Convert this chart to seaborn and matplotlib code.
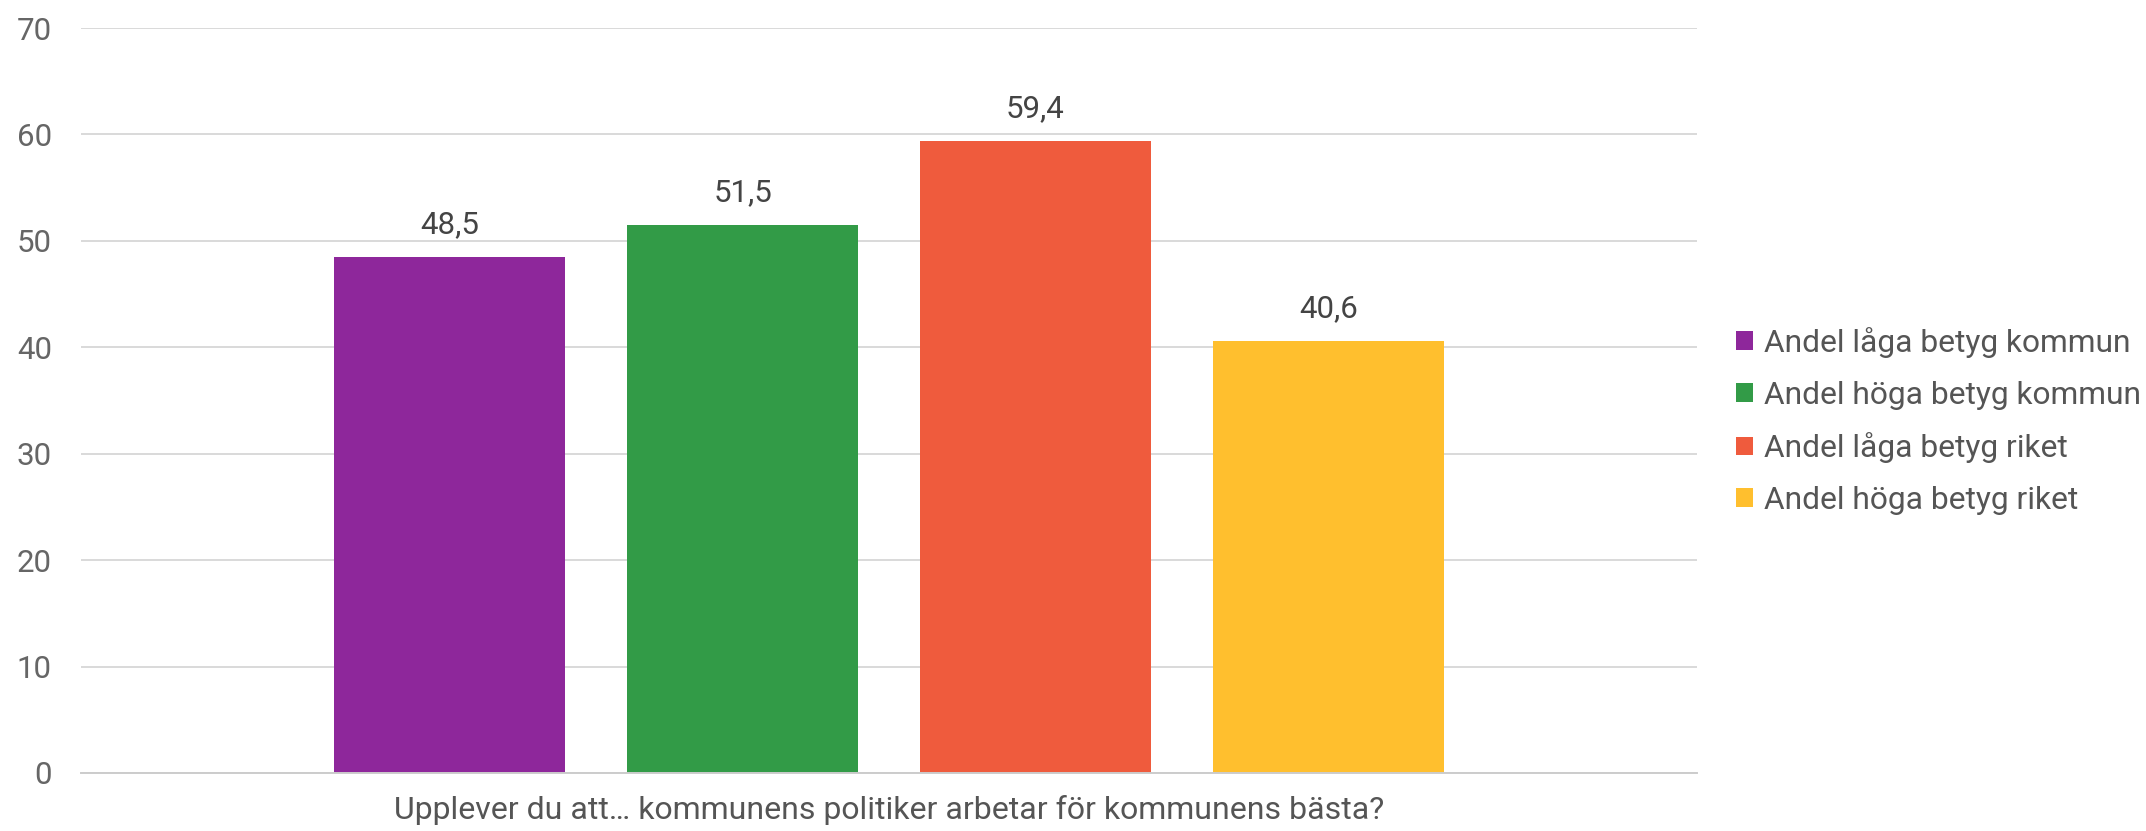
import matplotlib
matplotlib.use("Agg")
import matplotlib.pyplot as plt
import seaborn as sns
import pandas as pd

# ---- data ----
categories = ["Upplever du att… kommunens politiker arbetar för kommunens bästa?"]
series = ["Andel låga betyg kommun", "Andel höga betyg kommun",
          "Andel låga betyg riket", "Andel höga betyg riket"]
values = [48.5, 51.5, 59.4, 40.6]
colors = ["#8E279B", "#329B47", "#EF5B3D", "#FFBF2E"]
yticks = [0, 10, 20, 30, 40, 50, 60, 70]

df = pd.DataFrame({"question": categories * len(series),
                   "series": series,
                   "value": values})

sns.set_theme(style="white")
plt.rcParams["font.family"] = ["Roboto", "DejaVu Sans"]

fig = plt.figure(figsize=(21.46, 8.31), dpi=100)
ax = fig.add_axes([81 / 2146, 1 - 773 / 831, (1697 - 81) / 2146, (773 - 28) / 831])

sns.barplot(data=df, x="question", y="value", hue="series", hue_order=series,
            palette=colors, saturation=1, width=0.725, gap=0.21, ax=ax,
            edgecolor="none", linewidth=0, errorbar=None)

ax.set_xlim(-0.5, 0.5)
ax.set_ylim(0, 70)
ax.set_yticks(yticks)
ax.set_yticklabels([str(t) for t in yticks])
ax.yaxis.grid(True, color="#d9d9d9", linewidth=1.4)
ax.set_axisbelow(True)
for s in ["top", "right", "left"]:
    ax.spines[s].set_visible(False)
ax.spines["bottom"].set_color("#cccccc")
ax.spines["bottom"].set_linewidth(1.4)

ax.tick_params(axis="y", length=0, pad=21, labelsize=22.5, labelcolor="#666666")
ax.tick_params(axis="x", length=0, pad=16, labelsize=23, labelcolor="#555555")
ax.set_xticks([0])
ax.set_xticklabels(categories)
ax.set_xticks([-0.5, 0.5], minor=True)
ax.tick_params(axis="x", which="minor", length=7, width=1.4, color="#cccccc")
ax.set_xlabel("")
ax.set_ylabel("")

for cont, v in zip(ax.containers, values):
    ax.bar_label(cont, labels=[f"{v:.1f}".replace(".", ",")], padding=13,
                 fontsize=22.5, color="#444444")

handles, labels = ax.get_legend_handles_labels()
if ax.get_legend() is not None:
    ax.get_legend().remove()
fig.legend(handles, labels, loc="center left",
           bbox_to_anchor=(1736 / 2146, 1 - 421 / 831),
           bbox_transform=fig.transFigure, frameon=False,
           fontsize=22.9, handlelength=0.53, handleheight=0.53,
           handletextpad=0.35, labelspacing=0.71, borderpad=0, borderaxespad=0,
           labelcolor="#555555")

fig.savefig("out.png", dpi=100, facecolor="white")
